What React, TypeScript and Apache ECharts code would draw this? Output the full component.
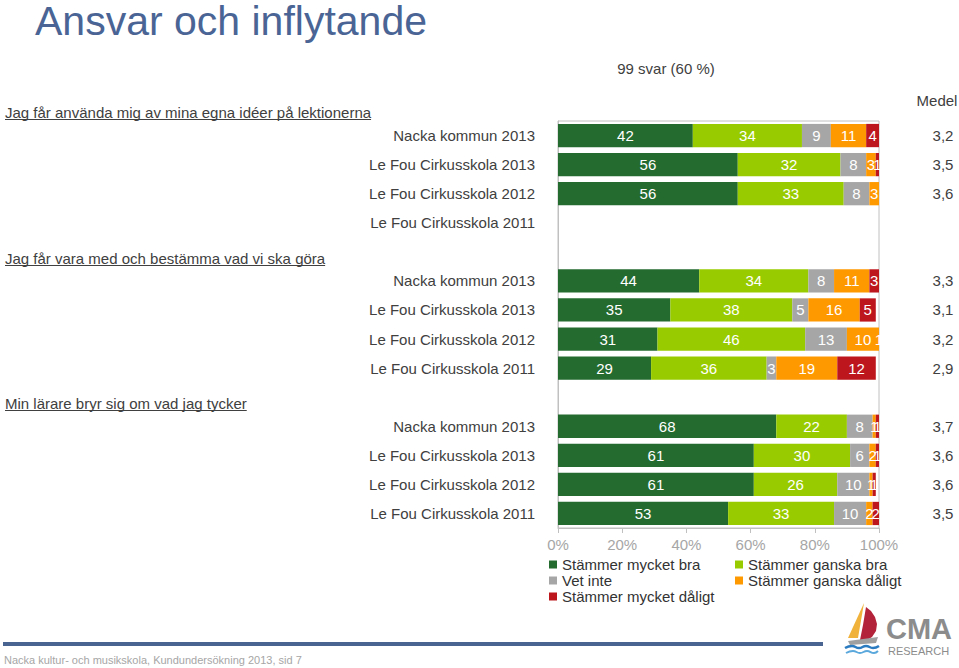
import React, { useEffect, useRef } from "react";
import * as echarts from "echarts";

const FONT = '"Liberation Sans", Arial, sans-serif';

// ---------- data ----------
const rowLabels = [
  "Nacka kommun 2013",
  "Le Fou Cirkusskola 2013",
  "Le Fou Cirkusskola 2012",
  "Le Fou Cirkusskola 2011",
  "",
  "Nacka kommun 2013",
  "Le Fou Cirkusskola 2013",
  "Le Fou Cirkusskola 2012",
  "Le Fou Cirkusskola 2011",
  "",
  "Nacka kommun 2013",
  "Le Fou Cirkusskola 2013",
  "Le Fou Cirkusskola 2012",
  "Le Fou Cirkusskola 2011",
];

const medel = ["3,2", "3,5", "3,6", "", "", "3,3", "3,1", "3,2", "2,9", "", "3,7", "3,6", "3,6", "3,5"];

const seriesNames = [
  "Stämmer mycket bra",
  "Stämmer ganska bra",
  "Vet inte",
  "Stämmer ganska dåligt",
  "Stämmer mycket dåligt",
];

const mycketBra = [42, 56, 56, null, null, 44, 35, 31, 29, null, 68, 61, 61, 53];
const ganskaBra = [34, 32, 33, null, null, 34, 38, 46, 36, null, 22, 30, 26, 33];
const vetInte = [9, 8, 8, null, null, 8, 5, 13, 3, null, 8, 6, 10, 10];
const ganskaDaligt = [11, 3, 3, null, null, 11, 16, 10, 19, null, 1, 2, 1, 2];
const mycketDaligt = [4, 1, 0, null, null, 3, 5, 1, 12, null, 1, 1, 1, 2];

const headings = [
  "Jag får använda mig av mina egna idéer på lektionerna",
  "Jag får vara med och bestämma vad vi ska göra",
  "Min lärare bryr sig om vad jag tycker",
];

const titleText = "Ansvar och inflytande";
const subtitleText = "99 svar (60 %)";
const medelHeader = "Medel";
const footerText = "Nacka kultur- och musikskola, Kundundersökning 2013, sid 7";

const colors = ["#246b30", "#99cc00", "#a6a6a6", "#ff9900", "#bd161d"];

function measure(text: string, font: string): number {
  const c = document.createElement("canvas").getContext("2d");
  if (!c) return text.length * 7;
  c.font = font;
  return c.measureText(text).width;
}

export default function App() {
  const ref = useRef<HTMLDivElement>(null);

  useEffect(() => {
    if (!ref.current) return;
    const chart = echarts.init(ref.current, undefined, { renderer: "svg" });

    const allSeries = [mycketBra, ganskaBra, vetInte, ganskaDaligt, mycketDaligt];

    const headingY = [112, 258, 403];
    const headingGraphics: any[] = [];
    headings.forEach((h, i) => {
      const w = measure(h, `15px ${FONT}`);
      headingGraphics.push({
        type: "text",
        x: 5,
        y: headingY[i],
        style: { text: h, font: `15px ${FONT}`, fill: "#404040", verticalAlign: "middle" },
      });
      headingGraphics.push({
        type: "line",
        shape: { x1: 5, y1: headingY[i] + 7.5, x2: 5 + w, y2: headingY[i] + 7.5 },
        style: { stroke: "#404040", lineWidth: 1 },
      });
    });

    const option: any = {
      animation: false,
      backgroundColor: "#ffffff",
      textStyle: { fontFamily: FONT },
      grid: {
        left: 558,
        right: 80,
        top: 121,
        bottom: 140,
        show: true,
        borderColor: "#c0c0c0",
        borderWidth: 1,
        containLabel: false,
      },
      xAxis: {
        type: "value",
        min: 0,
        max: 100,
        interval: 20,
        axisLabel: { formatter: "{value}%", color: "#a6a6a6", fontSize: 15, fontFamily: FONT, margin: 9 },
        axisLine: { show: true, lineStyle: { color: "#c0c0c0" } },
        axisTick: { show: true, length: 5, lineStyle: { color: "#c0c0c0" } },
        splitLine: { show: false },
      },
      yAxis: [
        {
          type: "category",
          inverse: true,
          data: rowLabels,
          axisLine: { show: true, lineStyle: { color: "#c0c0c0" } },
          axisTick: { show: false },
          axisLabel: { color: "#404040", fontSize: 15, fontFamily: FONT, margin: 23 },
          splitLine: { show: false },
        },
        {
          type: "category",
          inverse: true,
          position: "right",
          data: medel,
          axisLine: { show: false },
          axisTick: { show: false },
          axisLabel: { color: "#404040", fontSize: 15, fontFamily: FONT, margin: 64, align: "center" },
          splitLine: { show: false },
        },
      ],
      legend: [
        {
          left: 549,
          top: 557,
          orient: "vertical",
          padding: 0,
          itemWidth: 8,
          itemHeight: 8,
          itemGap: 1,
          icon: "rect",
          data: [seriesNames[0], seriesNames[2], seriesNames[4]],
          textStyle: { fontSize: 15, color: "#333333", fontFamily: FONT },
        },
        {
          left: 735,
          top: 557,
          orient: "vertical",
          padding: 0,
          itemWidth: 8,
          itemHeight: 8,
          itemGap: 1,
          icon: "rect",
          data: [seriesNames[1], seriesNames[3]],
          textStyle: { fontSize: 15, color: "#333333", fontFamily: FONT },
        },
      ],
      series: allSeries.map((d, i) => ({
        name: seriesNames[i],
        type: "bar",
        stack: "total",
        yAxisIndex: 0,
        data: d,
        barCategoryGap: "20%",
        itemStyle: { color: colors[i] },
        label: {
          show: true,
          position: "inside",
          color: "#ffffff",
          fontSize: 15,
          fontFamily: FONT,
          formatter: (p: any) => (p.value ? String(p.value) : ""),
        },
      })),
      graphic: [
        {
          type: "text",
          x: 35,
          y: 21,
          style: { text: titleText, font: `41px ${FONT}`, fill: "#4a6595", verticalAlign: "middle" },
        },
        {
          type: "text",
          x: 666,
          y: 68,
          style: { text: subtitleText, font: `15px ${FONT}`, fill: "#404040", align: "center", verticalAlign: "middle" },
        },
        {
          type: "text",
          x: 937,
          y: 100,
          style: { text: medelHeader, font: `15px ${FONT}`, fill: "#404040", align: "center", verticalAlign: "middle" },
        },
        ...headingGraphics,
        {
          type: "rect",
          shape: { x: 3, y: 642, width: 820, height: 4 },
          style: { fill: "#4a6491" },
        },
        {
          type: "text",
          x: 4,
          y: 660,
          style: { text: footerText, font: `11px ${FONT}`, fill: "#a6a6a6", verticalAlign: "middle" },
        },
        // logo
        {
          type: "polygon",
          shape: { points: [[864, 603], [848, 638], [858, 638]] },
          style: { fill: "#f0b23a" },
        },
        {
          type: "polygon",
          shape: {
            points: [[866, 607], [871, 611], [875, 617], [877, 624], [876, 631], [872, 637], [867, 640], [860, 640], [863, 625]],
          },
          style: { fill: "#b3243a" },
        },
        {
          type: "polygon",
          shape: { points: [[848, 641], [878, 637], [876, 643], [850, 645]] },
          style: { fill: "#a0a0a0" },
        },
        {
          type: "polyline",
          shape: { points: [[845, 648], [852, 646], [859, 648], [866, 646], [873, 648], [879, 646]], smooth: 0.5 },
          style: { stroke: "#2a7bc0", lineWidth: 2.5, fill: null },
        },
        {
          type: "polyline",
          shape: { points: [[846, 653], [853, 651], [860, 653], [867, 651], [874, 653], [878, 651]], smooth: 0.5 },
          style: { stroke: "#5aa8dc", lineWidth: 2, fill: null },
        },
        {
          type: "text",
          x: 886,
          y: 629,
          style: { text: "CMA", font: `bold 29px ${FONT}`, fill: "#8c8c8c", verticalAlign: "middle" },
        },
        {
          type: "text",
          x: 888,
          y: 651,
          style: { text: "RESEARCH", font: `11px ${FONT}`, fill: "#8c8c8c", verticalAlign: "middle" },
        },
      ],
    };

    chart.setOption(option);
    return () => chart.dispose();
  }, []);

  return (
    <div
      ref={ref}
      style={{ position: "absolute", left: 0, top: 0, width: 959, height: 668, background: "#fff" }}
    />
  );
}
